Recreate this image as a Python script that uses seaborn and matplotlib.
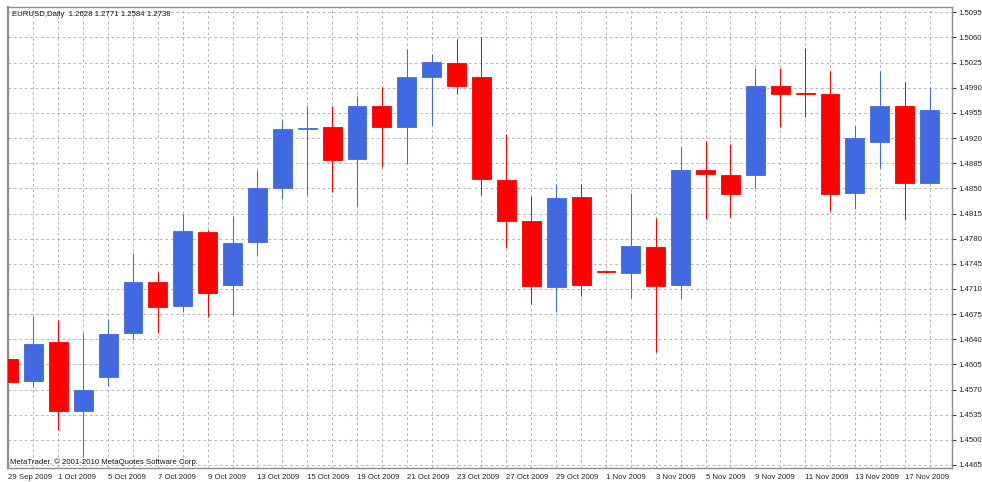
import matplotlib
matplotlib.use("Agg")
import matplotlib.pyplot as plt
import seaborn as sns
import pandas as pd
import numpy as np

# EURUSD daily bars, 29 Sep 2009 .. 17 Nov 2009
opens = [1.4612, 1.4582, 1.4636, 1.4540, 1.4587, 1.4648, 1.4720, 1.4686, 1.4789, 1.4715,
         1.4775, 1.4850, 1.4933, 1.4935, 1.4891, 1.4964, 1.4935, 1.5005, 1.5025, 1.5005,
         1.4862, 1.4805, 1.4713, 1.4838, 1.4735, 1.4732, 1.4768, 1.4715, 1.4875, 1.4869,
         1.4868, 1.4993, 1.4983, 1.4981, 1.4843, 1.4915, 1.4965, 1.4858]
highs = [1.4645, 1.4672, 1.4667, 1.4648, 1.4668, 1.4760, 1.4734, 1.4815, 1.4792, 1.4812,
         1.4875, 1.4945, 1.4965, 1.4965, 1.4979, 1.4991, 1.5044, 1.5037, 1.5058, 1.5061,
         1.4926, 1.4839, 1.4856, 1.4856, 1.4736, 1.4843, 1.4809, 1.4908, 1.4916, 1.4912,
         1.5018, 1.5018, 1.5045, 1.5013, 1.4937, 1.5013, 1.4998, 1.4989]
lows = [1.4525, 1.4573, 1.4514, 1.4478, 1.4575, 1.4641, 1.4648, 1.4678, 1.4671, 1.4674,
        1.4757, 1.4835, 1.4841, 1.4845, 1.4825, 1.4880, 1.4884, 1.4938, 1.4982, 1.4841,
        1.4767, 1.4689, 1.4678, 1.4700, 1.4732, 1.4698, 1.4622, 1.4698, 1.4808, 1.4810,
        1.4850, 1.4936, 1.4950, 1.4818, 1.4821, 1.4878, 1.4806, 1.4857]
closes = [1.4581, 1.4634, 1.4540, 1.4569, 1.4647, 1.4719, 1.4685, 1.4790, 1.4705, 1.4774,
          1.4850, 1.4932, 1.4934, 1.4890, 1.4964, 1.4936, 1.5005, 1.5026, 1.4993, 1.4863,
          1.4805, 1.4714, 1.4837, 1.4716, 1.4733, 1.4770, 1.4714, 1.4875, 1.4870, 1.4842,
          1.4992, 1.4981, 1.4982, 1.4842, 1.4920, 1.4965, 1.4858, 1.4959]

date_labels = ["29 Sep 2009", "1 Oct 2009", "5 Oct 2009", "7 Oct 2009", "9 Oct 2009",
               "13 Oct 2009", "15 Oct 2009", "19 Oct 2009", "21 Oct 2009", "23 Oct 2009",
               "27 Oct 2009", "29 Oct 2009", "1 Nov 2009", "3 Nov 2009", "5 Nov 2009",
               "9 Nov 2009", "11 Nov 2009", "13 Nov 2009", "17 Nov 2009"]

price_ticks = [1.5095, 1.5060, 1.5025, 1.4990, 1.4955, 1.4920, 1.4885, 1.4850, 1.4815, 1.4780,
               1.4745, 1.4710, 1.4675, 1.4640, 1.4605, 1.4570, 1.4535, 1.4500, 1.4465]

header = "EURUSD,Daily  1.2628 1.2771 1.2584 1.2738"
copyright_text = "MetaTrader, \u00a9 2001-2010 MetaQuotes Software Corp."

df = pd.DataFrame({"open": opens, "high": highs, "low": lows, "close": closes})
df["bar"] = np.arange(len(df))
df["up"] = df["close"] >= df["open"]

sns.set_style("white")
plt.rcParams["font.family"] = ["Liberation Sans", "DejaVu Sans"]

BULL = "#4169E1"
BEAR = "#FF0000"
GRID = "#b8b8b8"
FRAME = "#8c8c8c"

W, H = 982, 482
fig = plt.figure(figsize=(W / 100, H / 100), dpi=100)
ax = fig.add_axes([8 / W, (H - 468) / H, (952 - 8) / W, (468 - 7) / H])

colors = np.where(df["up"], BULL, BEAR)

# wicks
ax.vlines(df["bar"], df["low"], df["high"], colors=colors, linewidth=0.75, zorder=2)

# bodies
body_low = df[["open", "close"]].min(axis=1)
body_h = (df["close"] - df["open"]).abs()
ax.bar(df["bar"], body_h, bottom=body_low, width=0.76, color=colors,
       edgecolor=colors, linewidth=0.6, zorder=3)

ax.set_xlim(-0.02, 37.9)
ax.set_ylim(1.44608, 1.51024)

# dashed grid on every bar and every price level
for i in df["bar"][1:]:
    ax.axvline(i, color=GRID, linewidth=0.75, linestyle=(0, (2.6, 2.6)), zorder=1)
for p in price_ticks:
    ax.axhline(p, color=GRID, linewidth=0.75, linestyle=(0, (2.6, 2.6)), zorder=1)

ax.yaxis.tick_right()
ax.set_yticks(price_ticks)
ax.set_yticklabels([f"{p:.4f}" for p in price_ticks], fontsize=5.6)
ax.tick_params(axis="y", direction="out", length=3, width=0.8, color="#333333", pad=1.5,
               labelcolor="#222222")

ax.set_xticks(df["bar"][::2])
ax.set_xticklabels(date_labels, fontsize=5.6, ha="left")
ax.tick_params(axis="x", direction="out", length=2, width=0.8, color="#333333", pad=2,
               labelcolor="#222222")
for lab in ax.get_xticklabels():
    lab.set_x(lab.get_position()[0])

for s in ax.spines.values():
    s.set_color(FRAME)
    s.set_linewidth(1.0)
ax.spines["left"].set_linewidth(1.6)

ax.text(3.5 / 944, 1 - 7 / 461, header, transform=ax.transAxes, fontsize=5.6,
        ha="left", va="center", color="#111111", zorder=5)
ax.text(2 / 944, 5.5 / 461, copyright_text, transform=ax.transAxes, fontsize=5.6,
        ha="left", va="center", color="#111111", zorder=5)

fig.savefig("out.png", dpi=100, facecolor="white")
